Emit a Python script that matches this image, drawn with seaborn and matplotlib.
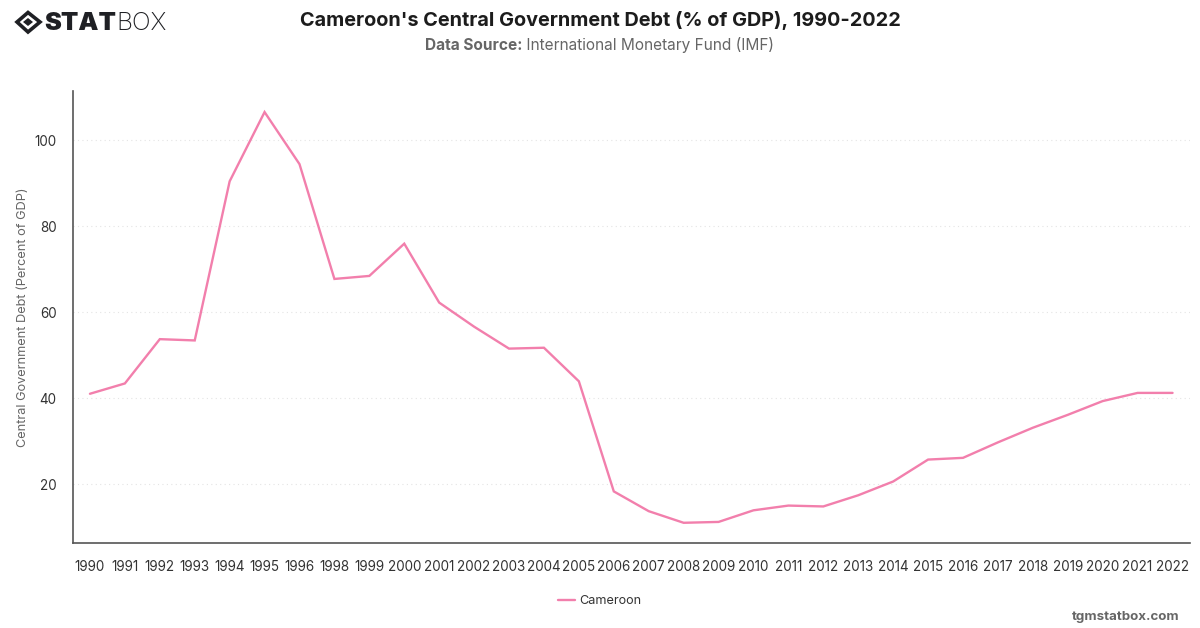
import matplotlib
matplotlib.use("Agg")
import matplotlib.pyplot as plt
from matplotlib.patches import Polygon
import pandas as pd
import seaborn as sns

# 1997 has no entry in the IMF series, so the axis is categorical
years = ["1990", "1991", "1992", "1993", "1994", "1995", "1996", "1998",
         "1999", "2000", "2001", "2002", "2003", "2004", "2005", "2006",
         "2007", "2008", "2009", "2010", "2011", "2012", "2013", "2014",
         "2015", "2016", "2017", "2018", "2019", "2020", "2021", "2022"]
debt = [41.0, 43.4, 53.7, 53.4, 90.4, 106.5, 94.4, 67.7,
        68.4, 75.9, 62.2, 56.6, 51.5, 51.7, 43.9, 18.3,
        13.7, 11.0, 11.2, 13.9, 15.0, 14.8, 17.4, 20.6,
        25.7, 26.1, 29.7, 33.1, 36.1, 39.3, 41.2, 41.2]
country = "Cameroon"
line_color = "#f27fac"

sns.set_theme(style="white")
plt.rcParams["font.family"] = ["Inter", "DejaVu Sans"]

W, H = 1200, 628
fig = plt.figure(figsize=(W / 100, H / 100), dpi=100, facecolor="white")
ax = fig.add_axes([72.5 / W, 1 - 543 / H, (1190 - 72.5) / W, (543 - 91) / H])

frame = pd.DataFrame({"year": years, "debt": debt, "country": country})
sns.lineplot(data=frame, x="year", y="debt", hue="country", palette=[line_color],
             linewidth=1.7, ax=ax, legend=False, sort=False, solid_joinstyle="miter")

ax.set_xlim(-0.5, len(years) - 0.5)
ax.set_ylim(6.3, 111.4)
ax.set_yticks([20, 40, 60, 80, 100])
ax.set_xlabel("")
ax.set_ylabel("Central Government Debt (Percent of GDP)", fontsize=9.2, color="#666666")
ax.yaxis.set_label_coords(29 / W, 1 - 317 / H, transform=fig.transFigure)
ax.tick_params(axis="both", length=0, labelsize=9.7, labelcolor="#333333")
ax.tick_params(axis="x", pad=12.5)
ax.tick_params(axis="y", pad=11.5)
ax.grid(axis="y", color="#e4e4e4", linewidth=0.8, linestyle=(0, (1, 3)))
ax.set_axisbelow(True)
for side in ("top", "right"):
    ax.spines[side].set_visible(False)
for side in ("left", "bottom"):
    ax.spines[side].set_color("#555555")
    ax.spines[side].set_linewidth(1.2)

# Headings
fig.text(600 / W, 1 - 20.5 / H, "Cameroon's Central Government Debt (% of GDP), 1990-2022",
         ha="center", va="center", fontsize=14.3, fontweight="bold", color="#1c1c1c")
fig.text(522.5 / W, 1 - 50 / H, "Data Source:", ha="right", va="baseline",
         fontsize=11.1, fontweight="bold", color="#666666")
fig.text(522.5 / W, 1 - 50 / H, " International Monetary Fund (IMF)", ha="left", va="baseline",
         fontsize=11.1, color="#666666")

# Wordmark
def px(x, y):
    return (x / W, 1 - y / H)

mark = "#1f2024"
fig.add_artist(Polygon([px(17, 22), px(28, 12.5), px(40, 22), px(28, 32)], closed=True,
                       transform=fig.transFigure, facecolor="none",
                       edgecolor=mark, linewidth=2.6))
fig.add_artist(Polygon([px(23, 22), px(28, 18), px(33, 22), px(28, 26)], closed=True,
                       transform=fig.transFigure, facecolor=mark, edgecolor="none"))
fig.text(44 / W, 1 - 23 / H, "STAT", ha="left", va="center", fontsize=18.2,
         fontweight="black", color=mark)
fig.text(116.5 / W, 1 - 23 / H, "BOX", ha="left", va="center", fontsize=17.8,
         fontweight="light", color=mark)

# Legend entry and site credit
fig.add_artist(plt.Line2D([558 / W, 575 / W], [1 - 599.5 / H] * 2, color=line_color,
                          linewidth=1.7, transform=fig.transFigure))
fig.text(579.5 / W, 1 - 600.5 / H, country, ha="left", va="center", fontsize=9.1, color="#333333")
fig.text(1180 / W, 1 - 617 / H, "tgmstatbox.com", ha="right", va="center", fontsize=9.6,
         fontweight="bold", color="#666666")

fig.savefig("out.png", dpi=100, facecolor="white")
